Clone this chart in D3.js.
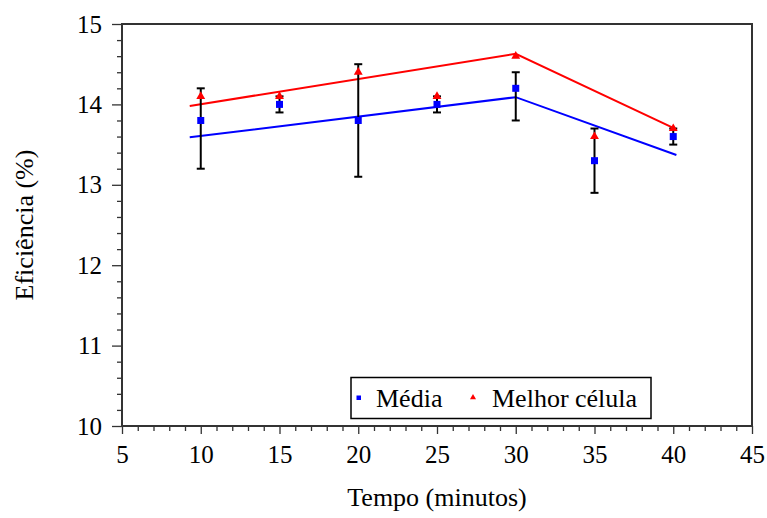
<!DOCTYPE html>
<html>
<head>
<meta charset="utf-8">
<script src="https://cdn.jsdelivr.net/npm/d3@7"></script>
<style>
  body { margin: 0; background: #fff; }
  svg text { font-family: "Liberation Serif", "Times New Roman", Times, "DejaVu Serif", serif; fill: #000; }
</style>
</head>
<body>
<svg id="chart" width="767" height="518"></svg>
<script>
// data
const tempos = [10, 15, 20, 25, 30, 35, 40];
const media = [13.8, 14.0, 13.8, 14.0, 14.2, 13.3, 13.6];
const mediaLow = [13.2, 13.9, 13.1, 13.9, 13.8, 12.9, 13.5];
const mediaHigh = [14.2, 14.1, 14.5, 14.1, 14.4, 13.7, 13.7];
const melhor = [14.1, 14.1, 14.4, 14.1, 14.6, 13.6, 13.7];

// trend lines
const trendX = [9.3, 30, 40.2];
const mediaTrend = [13.59, 14.09, 13.37];
const melhorTrend = [13.98, 14.63, 13.69];

const xTicks = [5, 10, 15, 20, 25, 30, 35, 40, 45];
const yTicks = [10, 11, 12, 13, 14, 15];

const plotLeft = 122, plotRight = 752, plotTop = 24, plotBottom = 426;
const serif = '"Liberation Serif", "Times New Roman", Times, "DejaVu Serif", serif';

const svg = d3.select('#chart');
const xScale = d3.scaleLinear().domain([5, 45]).range([plotLeft, plotRight]);
const yScale = d3.scaleLinear().domain([10, 15]).range([plotBottom, plotTop]);

const axisColor = '#333';

// minor ticks
const xMinor = d3.range(5, 45.01, 1).filter(v => v % 5 != 0);
const yMinor = d3.range(10, 15.001, 0.2).filter(v => Math.abs(v - Math.round(v)) > 0.01);

const xMinorG = svg.append('g').attr('transform', `translate(0, ${plotBottom})`)
  .call(d3.axisBottom(xScale).tickValues(xMinor).tickSize(5).tickFormat(''));
const yMinorG = svg.append('g').attr('transform', `translate(${plotLeft}, 0)`)
  .call(d3.axisLeft(yScale).tickValues(yMinor).tickSize(5).tickFormat(''));

const xAxisG = svg.append('g').attr('transform', `translate(0, ${plotBottom})`)
  .call(d3.axisBottom(xScale).tickValues(xTicks).tickSize(8).tickPadding(11).tickFormat(d3.format('d')));
const yAxisG = svg.append('g').attr('transform', `translate(${plotLeft}, 0)`)
  .call(d3.axisLeft(yScale).tickValues(yTicks).tickSize(10).tickPadding(10).tickFormat(d3.format('d')));

[xMinorG, yMinorG, xAxisG, yAxisG].forEach(g => {
  g.attr('font-family', serif).attr('font-size', 25);
  g.select('.domain').remove();
  g.selectAll('line').attr('stroke', axisColor).attr('stroke-width', 1.3);
  g.selectAll('text').style('font-family', serif).style('font-size', '25px');
});

// frame
svg.append('rect').attr('x', plotLeft).attr('y', plotTop)
  .attr('width', plotRight - plotLeft).attr('height', plotBottom - plotTop)
  .attr('fill', 'none').attr('stroke', axisColor).attr('stroke-width', 2);

// trend lines
const line = d3.line().x((d) => xScale(d[0])).y((d) => yScale(d[1]));
svg.append('path').attr('d', line(trendX.map((x, i) => [x, mediaTrend[i]])))
  .attr('fill', 'none').attr('stroke', '#0000ff').attr('stroke-width', 2);
svg.append('path').attr('d', line(trendX.map((x, i) => [x, melhorTrend[i]])))
  .attr('fill', 'none').attr('stroke', '#ff0000').attr('stroke-width', 2);

// error bars
const err = svg.append('g').attr('stroke', '#000').attr('stroke-width', 2);
tempos.forEach((t, i) => {
  const x = xScale(t);
  err.append('line').attr('x1', x).attr('x2', x).attr('y1', yScale(mediaLow[i])).attr('y2', yScale(mediaHigh[i]));
  err.append('line').attr('x1', x - 4).attr('x2', x + 4).attr('y1', yScale(mediaLow[i])).attr('y2', yScale(mediaLow[i]));
  err.append('line').attr('x1', x - 4).attr('x2', x + 4).attr('y1', yScale(mediaHigh[i])).attr('y2', yScale(mediaHigh[i]));
});

// markers
const tri = d3.symbol().type(d3.symbolTriangle).size(34);
svg.append('g').selectAll('path').data(tempos).enter().append('path')
  .attr('d', tri)
  .attr('transform', (d, i) => `translate(${xScale(d)}, ${yScale(melhor[i])})`)
  .attr('fill', '#ff0000');
svg.append('g').selectAll('rect').data(tempos).enter().append('rect')
  .attr('x', (d) => xScale(d) - 3.5).attr('y', (d, i) => yScale(media[i]) - 3.5)
  .attr('width', 7).attr('height', 7).attr('fill', '#0000ff');

// legend
const legend = svg.append('g');
legend.append('rect').attr('x', 351).attr('y', 377.5).attr('width', 300).attr('height', 41)
  .attr('fill', '#fff').attr('stroke', '#000').attr('stroke-width', 1.5);
legend.append('rect').attr('x', 356.5).attr('y', 395.5).attr('width', 4.5).attr('height', 4.5).attr('fill', '#0000ff');
legend.append('path').attr('d', d3.symbol().type(d3.symbolTriangle).size(16))
  .attr('transform', 'translate(473, 397.5)').attr('fill', '#ff0000');
legend.append('text').attr('x', 376).attr('y', 406.5).style('font-size', '26px').text('Média');
legend.append('text').attr('x', 492).attr('y', 406.5).style('font-size', '26px').text('Melhor célula');

// axis titles
svg.append('text').attr('x', (plotLeft + plotRight) / 2).attr('y', 506)
  .attr('text-anchor', 'middle').style('font-size', '26px').text('Tempo (minutos)');
svg.append('text').attr('transform', `translate(33, ${(plotTop + plotBottom) / 2}) rotate(-90)`)
  .attr('text-anchor', 'middle').style('font-size', '26px').text('Eficiência (%)');
</script>
</body>
</html>
